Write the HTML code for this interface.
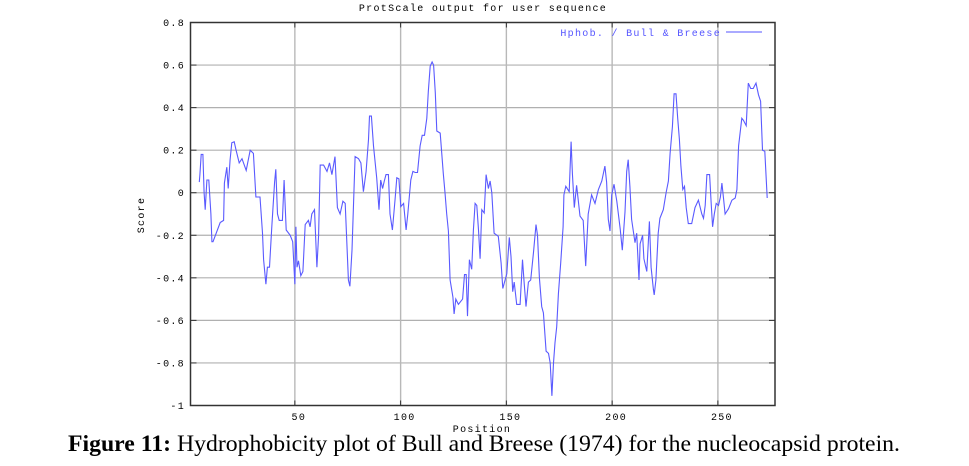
<!DOCTYPE html>
<html><head><meta charset="utf-8"><style>
html,body{margin:0;padding:0;background:#fff;}
svg{display:block;}
.mono{font-family:"Liberation Mono","DejaVu Sans Mono",monospace;font-size:10px;fill:#000;letter-spacing:1.3px;}
</style></head><body>
<svg id="chart" width="969" height="466" viewBox="0 0 969 466" xmlns="http://www.w3.org/2000/svg">
<text class="mono" x="483" y="11" text-anchor="middle">ProtScale output for user sequence</text>
<g id="grid"></g>
<g id="yticks"></g>
<g id="xticks"></g>
<text class="mono" transform="translate(144,215) rotate(-90)" text-anchor="middle">Score</text>
<text class="mono" x="482" y="432" text-anchor="middle">Position</text>
<g id="series"></g>
<rect x="190.5" y="22.5" width="584.5" height="383" fill="none" stroke="#333" stroke-width="1.5"/>
<g>
<text class="mono" x="721" y="36" text-anchor="end" style="fill:#5555ff">Hphob. / Bull &amp; Breese</text>
<line x1="726" y1="32" x2="762" y2="32" stroke="#7777ff" stroke-width="1.3"/>
</g>
<text x="68" y="451" font-family="Liberation Serif, serif" font-size="23" textLength="832" lengthAdjust="spacingAndGlyphs"><tspan font-weight="bold">Figure 11:</tspan> Hydrophobicity plot of Bull and Breese (1974) for the nucleocapsid protein.</text>
</svg>
<script>
const positions=[4.8,5.1,5.7,6.5,7.1,7.6,8.4,9.3,10.3,10.8,11.3,14.7,16.3,16.7,17.8,18.5,19.4,20.2,21.3,22.2,23.7,25,27,28.9,30.4,31.6,33.5,34.7,35.2,36.3,37,38,39.1,40.4,41,41.8,42.6,44.1,44.9,45.9,47.8,49,49.7,50,50.5,51,51.7,52.8,53.8,54.9,56.4,57.2,58,59.3,60.4,61.2,62,63.6,65.2,66.4,67.5,69,70.1,71.4,72.7,73.8,75.3,76,77,78.5,80.1,81.2,82.4,83.7,84.8,85.3,86.2,87.2,88.7,89.8,90.6,91.5,92.3,93.1,94.2,95,96.1,97.4,98.2,99.2,100.1,101.4,102.6,103.4,104.8,105.8,106.9,108,109.2,110.2,111.3,112.4,113.1,114,114.9,115.6,116.4,117.1,118.7,120.2,121,121.8,122.6,123.4,124.7,125.3,126.1,127.3,129.3,130.2,131,131.6,132.5,133.6,134.4,135.2,136,136.8,137.6,138.4,139.5,140.4,141.5,142.3,143.1,144.2,146.2,147.5,148.3,149.4,150.2,151.4,152.2,153,153.7,154.9,156.5,157.6,158.4,159.3,160.4,161.5,162.8,164,164.7,165.6,166.7,167.5,168.8,169.9,170.7,171.5,172.3,173,173.8,174.6,175.7,176.8,177.2,178.1,179.7,180.6,181.2,182.1,183.2,184.8,186.3,187.5,188.7,190.3,191.9,193.5,195.1,196.6,197.4,198.2,199,199.8,200.9,202.2,203.8,204.8,206.1,206.9,207.6,208.4,209.2,210.8,211.6,212.7,213.2,214.4,215,216.4,217.6,218.4,219.5,219.9,220.7,221.8,222.6,223.4,224.2,225.5,226.6,227.4,228.5,229.3,230.2,231,231.8,232.5,233.4,234.2,235,236,237.6,239.2,240.8,242.4,243.2,244,244.8,246.1,246.9,247.5,248.3,249.2,250.3,251.2,251.9,252.7,253.4,255,256.6,258.2,259,259.8,261.3,262.1,263.4,264.4,265.5,266.7,268,269.2,270.2,271.1,272.2,273.3];
const scores=[0.05,0.085,0.18,0.18,0,-0.08,0.06,0.06,-0.1,-0.23,-0.23,-0.14,-0.13,0.045,0.12,0.02,0.155,0.235,0.24,0.2,0.14,0.16,0.105,0.2,0.185,-0.02,-0.02,-0.19,-0.315,-0.43,-0.35,-0.35,-0.16,0.05,0.11,-0.1,-0.13,-0.13,0.06,-0.175,-0.2,-0.23,-0.37,-0.43,-0.16,-0.35,-0.32,-0.39,-0.37,-0.15,-0.13,-0.16,-0.1,-0.08,-0.35,-0.2,0.13,0.13,0.1,0.14,0.085,0.17,-0.07,-0.1,-0.04,-0.05,-0.41,-0.44,-0.27,0.17,0.16,0.14,0.005,0.1,0.25,0.36,0.36,0.22,0.07,-0.08,0.06,0.02,0.055,0.085,0.085,-0.1,-0.175,-0.03,0.07,0.065,-0.065,-0.05,-0.175,-0.1,0.06,0.1,0.095,0.095,0.22,0.27,0.27,0.35,0.475,0.595,0.615,0.6,0.47,0.29,0.28,0.09,0,-0.1,-0.18,-0.41,-0.49,-0.57,-0.5,-0.525,-0.5,-0.385,-0.385,-0.58,-0.315,-0.36,-0.175,-0.05,-0.06,-0.175,-0.31,-0.08,-0.095,0.085,0.02,0.055,0,-0.19,-0.205,-0.33,-0.45,-0.41,-0.38,-0.21,-0.3,-0.465,-0.42,-0.525,-0.525,-0.315,-0.42,-0.535,-0.42,-0.41,-0.28,-0.15,-0.2,-0.4,-0.535,-0.565,-0.745,-0.755,-0.8,-0.955,-0.8,-0.705,-0.63,-0.475,-0.33,-0.16,-0.01,0.03,0.005,0.24,0.09,-0.07,0.035,-0.11,-0.13,-0.345,-0.1,-0.01,-0.05,0.015,0.055,0.125,0.05,-0.125,-0.18,-0.01,0.04,-0.04,-0.17,-0.27,-0.09,0.1,0.155,0.03,-0.125,-0.235,-0.19,-0.41,-0.24,-0.2,-0.31,-0.37,-0.135,-0.35,-0.455,-0.48,-0.41,-0.19,-0.12,-0.1,-0.08,0,0.055,0.185,0.31,0.465,0.465,0.35,0.25,0.125,0.015,0.03,-0.07,-0.145,-0.145,-0.07,-0.035,-0.1,-0.12,-0.06,0.085,0.085,-0.06,-0.16,-0.1,-0.05,-0.06,-0.02,0.045,-0.03,-0.1,-0.075,-0.035,-0.025,0.015,0.22,0.35,0.34,0.315,0.515,0.49,0.49,0.515,0.46,0.43,0.2,0.195,-0.025];
const yTickValues=[0.8,0.6,0.4,0.2,0,-0.2,-0.4,-0.6,-0.8,-1];
const yTickLabels=["0.8","0.6","0.4","0.2","0","-0.2","-0.4","-0.6","-0.8","-1"];
const xTickValues=[50,100,150,200,250];
const xTickLabels=["50","100","150","200","250"];

const NS="http://www.w3.org/2000/svg";
const X0=190.5,X1=775,Y0=22.5,Y1=405.5;
const xMin=0.66,xMax=277,yMin=-1,yMax=0.8;
function xs(v){return X0+(v-xMin)/(xMax-xMin)*(X1-X0);}
function ys(v){return Y1-(v-yMin)/(yMax-yMin)*(Y1-Y0);}
function mk(tag,attrs,parent){const e=document.createElementNS(NS,tag);for(const k in attrs)e.setAttribute(k,attrs[k]);parent.appendChild(e);return e;}
const grid=document.getElementById('grid'),yt=document.getElementById('yticks'),xt=document.getElementById('xticks'),ser=document.getElementById('series');
yTickValues.forEach((v,i)=>{
  const y=ys(v);
  if(i>0&&i<yTickValues.length-1){
    const g=mk('line',{x1:X0,x2:X1,y1:y,y2:y,stroke:'#b0b0b0','stroke-width':1.2},grid);
    
    
  }
  const t1=mk('line',{x1:X0,x2:X0+6,y1:y,y2:y,stroke:'#333'},yt);
  
  
  const t2=mk('line',{x1:X1-6,x2:X1,y1:y,y2:y,stroke:'#333'},yt);
  
  
  const tx=mk('text',{x:185,y:y+3.5,'text-anchor':'end',class:'mono'},yt);
  tx.textContent=yTickLabels[i];
  
  
});
xTickValues.forEach((v,i)=>{
  const x=xs(v);
  const g=mk('line',{x1:x,x2:x,y1:Y0,y2:Y1,stroke:'#b8b8b8','stroke-width':1.4},grid);
  
  
  const t1=mk('line',{x1:x,x2:x,y1:Y1-5,y2:Y1,stroke:'#333'},xt);
  
  
  const t2=mk('line',{x1:x,x2:x,y1:Y0,y2:Y0+5,stroke:'#333'},xt);
  
  
  const tx=mk('text',{x:x+4,y:420,'text-anchor':'middle',class:'mono'},xt);
  tx.textContent=xTickLabels[i];
  
  
});
let d='';
positions.forEach((p,i)=>{d+=(i?'L':'M')+xs(p).toFixed(1)+','+ys(scores[i]).toFixed(1);});
const path=mk('path',{d:d,fill:'none',stroke:'#5a5aff','stroke-width':1.1,'stroke-linejoin':'miter'},ser);


</script>
</body></html>
